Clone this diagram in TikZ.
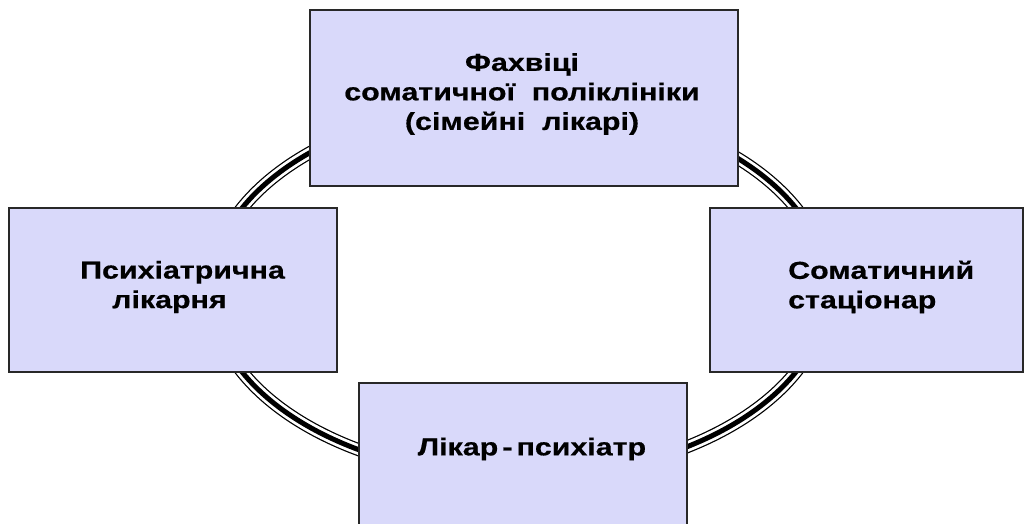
\documentclass[tikz,border=0pt]{standalone}
\usepackage{fontspec}
\setmainfont{Liberation Sans}
\newfontfamily\widefont[FakeStretch=1.24,FakeBold=0.6]{Liberation Sans Bold}
\definecolor{boxfill}{RGB}{217,217,250}
\definecolor{boxline}{RGB}{40,40,40}
\begin{document}
\begin{tikzpicture}[x=1pt,y=-1pt,
  box/.style={draw=boxline,line width=1.2pt,fill=boxfill},
  lbl/.style={font=\widefont\fontsize{24.5}{29.5}\selectfont,inner sep=0pt},
  ringout/.style={line width=13pt,black},
  ringmid/.style={line width=10.5pt,white},
  ringin/.style={line width=5pt,black}]
\useasboundingbox (0,0) rectangle (1027,524);
\clip (0,0) rectangle (1027,524);
% ring
\coordinate (c) at (519,290);
\draw[ringout] (c) ellipse [x radius=308, y radius=187];
\draw[ringmid] (c) ellipse [x radius=308, y radius=187];
\draw[ringin] (c) ellipse [x radius=308, y radius=187];
% boxes
\path[box] (310,10) rectangle (738,186) node[pos=0.5] (top) {};
\path[box] (9,208) rectangle (337,372) node[pos=0.5] (left) {};
\path[box] (710,208) rectangle (1023,372) node[pos=0.5] (right) {};
\path[box] (359,383) rectangle (687,540) node[pos=0.5] (bottom) {};
% labels
\node[lbl,align=center] (toptext) at (522,94) {Фахвіці\\соматичної\ \ поліклініки\\(сімейні\ \ лікарі)};
\node[lbl,align=left,anchor=west] (lefttext) at (80,287) {Психіатрична\\\hspace*{32pt}лікарня};
\node[lbl,align=left,anchor=west] (righttext) at (788,287) {Соматичний\\стаціонар};
\node[lbl] (bottomtext) at (532,449) {Лікар\,-\,психіатр};
\end{tikzpicture}
\end{document}
